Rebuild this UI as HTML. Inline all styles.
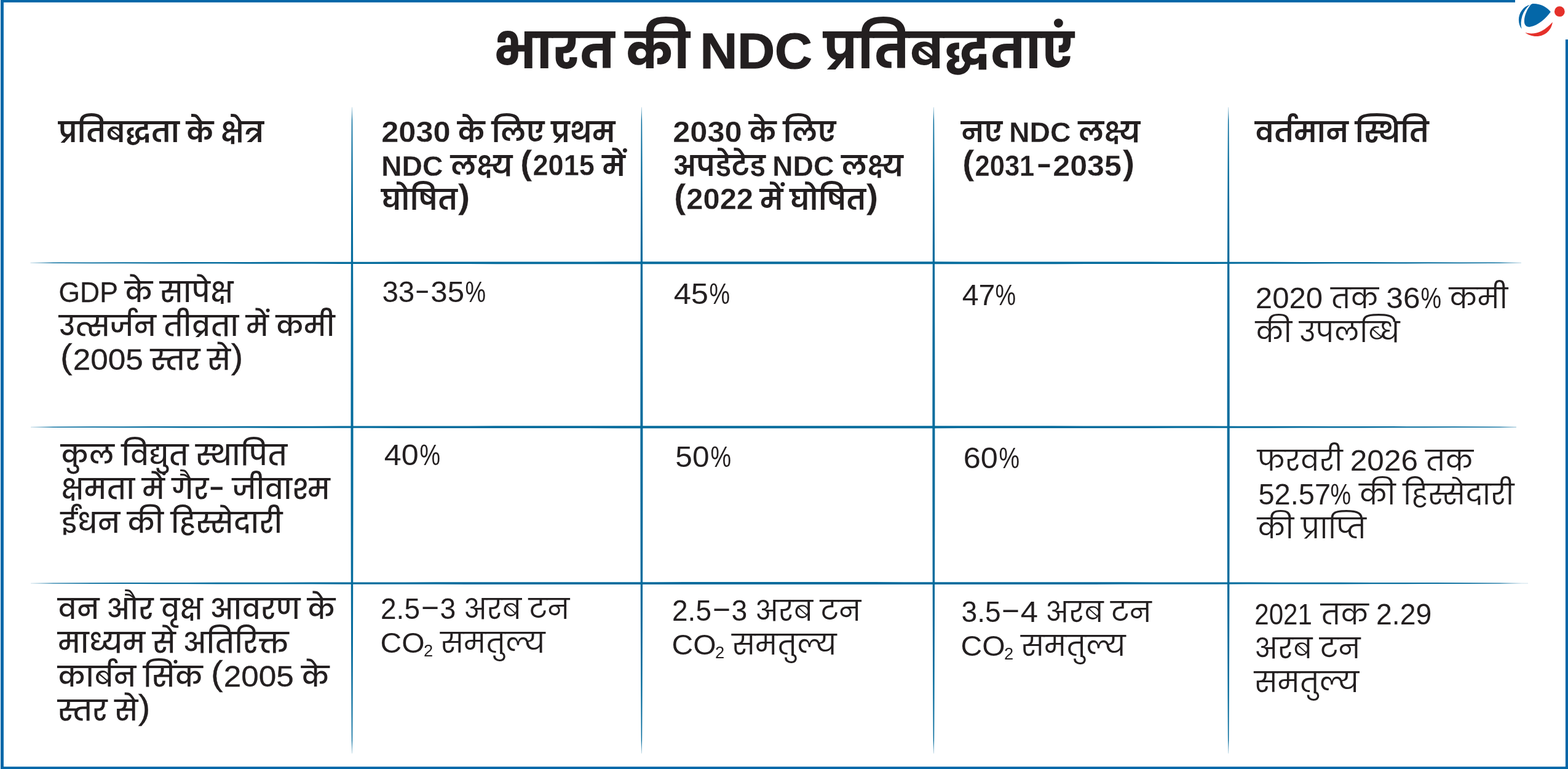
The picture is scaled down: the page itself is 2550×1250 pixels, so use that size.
<!DOCTYPE html>
<html lang="hi">
<head>
<meta charset="utf-8">
<meta name="viewport" content="width=2550, initial-scale=1">
<title>भारत की NDC प्रतिबद्धताएं</title>
<style>
html,body{margin:0;padding:0;background:#fff}
body{width:2550px;height:1250px;position:relative;overflow:hidden;
 font-family:"Liberation Sans","Poppins","Noto Sans Devanagari","Hind","Mukta","Lohit Devanagari","FreeSans",sans-serif;
 color:#231f20;-webkit-font-smoothing:antialiased;font-kerning:normal}
#art{position:absolute;left:0;top:0;width:2550px;height:1250px}
h1,table,thead,tbody,tr,th,td{margin:0;padding:0;border:0;font:inherit}
table,thead,tbody,tr{display:block}
h1,th,td{display:block;position:absolute;white-space:nowrap;text-align:left}
h1{font-weight:700}
th{font-weight:600}
td{font-weight:400}
td.k{font-weight:500}
.l{display:inline-block;line-height:1;transform-origin:0 0.8465em;font-family:"Liberation Sans",sans-serif}
h1 .l{-webkit-text-stroke:1.2px #231f20}
th .l{-webkit-text-stroke:.25px #fff}
td.k .l{-webkit-text-stroke:0.3px #231f20}
</style>
</head>
<body>
<svg id="art" width="2550" height="1250" viewBox="0 0 2550 1250" aria-hidden="true">
<defs>
<linearGradient id="gv" gradientUnits="userSpaceOnUse" x1="0" y1="174.3" x2="0" y2="1224.7">
<stop offset="0" stop-color="#056c9d" stop-opacity=".25"/><stop offset=".02" stop-color="#056c9d"/><stop offset=".98" stop-color="#056c9d"/><stop offset="1" stop-color="#056c9d" stop-opacity=".25"/>
</linearGradient>
<linearGradient id="gh" gradientUnits="userSpaceOnUse" x1="50" y1="0" x2="2475" y2="0">
<stop offset="0" stop-color="#056c9d" stop-opacity=".25"/><stop offset=".015" stop-color="#056c9d"/><stop offset=".985" stop-color="#056c9d"/><stop offset="1" stop-color="#056c9d" stop-opacity=".25"/>
</linearGradient>
</defs>
<!-- outer frame -->
<g fill="#0467a8">
<rect x="1" y="0" width="2463" height="3.9"/>
<rect x="1" y="0" width="4.9" height="1250"/>
<rect x="1" y="1246.2" width="2549" height="3.8"/>
<rect x="2545.9" y="64.2" width="4.1" height="1185.8"/>
</g>
<!-- logo -->
<g transform="translate(2400,0) scale(0.06)">
<path fill="#0467a8" d="M1465,130 C1280,180 1165,360 1165,540 C1165,640 1200,720 1245,785 C1215,680 1220,560 1260,430 C1300,310 1370,210 1465,130 Z"/>
<path fill="#0467a8" d="M1488,128 C1505,108 1530,98 1570,98 C1750,98 1920,180 2030,320 C1900,500 1700,680 1480,725 C1380,745 1310,690 1315,560 C1320,400 1400,240 1488,128 Z"/>
<path fill="#e5302a" d="M2080,600 C2060,790 1900,985 1640,985 C1520,985 1420,945 1340,880 C1480,930 1640,910 1780,840 C1900,780 2000,690 2080,600 Z"/>
<circle fill="#e5302a" cx="2272" cy="312" r="140"/>
</g>
<!-- grid: tapered rules -->
<path fill="url(#gv)" d="M572.95,174.3 L573.28,203.5 L573.46,232.7 L573.61,261.8 L573.73,291.0 L573.85,320.2 L573.95,349.4 L574.04,378.5 L574.12,407.7 L574.19,436.9 L574.26,466.1 L574.32,495.3 L574.36,524.4 L574.41,553.6 L574.44,582.8 L574.47,612.0 L574.49,641.1 L574.50,670.3 L574.50,699.5 L574.50,728.7 L574.49,757.9 L574.47,787.0 L574.44,816.2 L574.41,845.4 L574.36,874.6 L574.32,903.7 L574.26,932.9 L574.19,962.1 L574.12,991.3 L574.04,1020.5 L573.95,1049.6 L573.85,1078.8 L573.73,1108.0 L573.61,1137.2 L573.46,1166.3 L573.28,1195.5 L572.95,1224.7 L572.05,1224.7 L571.72,1195.5 L571.54,1166.3 L571.39,1137.2 L571.27,1108.0 L571.15,1078.8 L571.05,1049.6 L570.96,1020.5 L570.88,991.3 L570.81,962.1 L570.74,932.9 L570.68,903.7 L570.64,874.6 L570.59,845.4 L570.56,816.2 L570.53,787.0 L570.51,757.9 L570.50,728.7 L570.50,699.5 L570.50,670.3 L570.51,641.1 L570.53,612.0 L570.56,582.8 L570.59,553.6 L570.64,524.4 L570.68,495.3 L570.74,466.1 L570.81,436.9 L570.88,407.7 L570.96,378.5 L571.05,349.4 L571.15,320.2 L571.27,291.0 L571.39,261.8 L571.54,232.7 L571.72,203.5 L572.05,174.3 Z"/>
<path fill="url(#gv)" d="M1043.85,174.3 L1044.18,203.5 L1044.36,232.7 L1044.51,261.8 L1044.63,291.0 L1044.75,320.2 L1044.85,349.4 L1044.94,378.5 L1045.02,407.7 L1045.09,436.9 L1045.16,466.1 L1045.22,495.3 L1045.26,524.4 L1045.31,553.6 L1045.34,582.8 L1045.37,612.0 L1045.39,641.1 L1045.40,670.3 L1045.40,699.5 L1045.40,728.7 L1045.39,757.9 L1045.37,787.0 L1045.34,816.2 L1045.31,845.4 L1045.26,874.6 L1045.22,903.7 L1045.16,932.9 L1045.09,962.1 L1045.02,991.3 L1044.94,1020.5 L1044.85,1049.6 L1044.75,1078.8 L1044.63,1108.0 L1044.51,1137.2 L1044.36,1166.3 L1044.18,1195.5 L1043.85,1224.7 L1042.95,1224.7 L1042.62,1195.5 L1042.44,1166.3 L1042.29,1137.2 L1042.17,1108.0 L1042.05,1078.8 L1041.95,1049.6 L1041.86,1020.5 L1041.78,991.3 L1041.71,962.1 L1041.64,932.9 L1041.58,903.7 L1041.54,874.6 L1041.49,845.4 L1041.46,816.2 L1041.43,787.0 L1041.41,757.9 L1041.40,728.7 L1041.40,699.5 L1041.40,670.3 L1041.41,641.1 L1041.43,612.0 L1041.46,582.8 L1041.49,553.6 L1041.54,524.4 L1041.58,495.3 L1041.64,466.1 L1041.71,436.9 L1041.78,407.7 L1041.86,378.5 L1041.95,349.4 L1042.05,320.2 L1042.17,291.0 L1042.29,261.8 L1042.44,232.7 L1042.62,203.5 L1042.95,174.3 Z"/>
<path fill="url(#gv)" d="M1518.85,174.3 L1519.18,203.5 L1519.36,232.7 L1519.51,261.8 L1519.63,291.0 L1519.75,320.2 L1519.85,349.4 L1519.94,378.5 L1520.02,407.7 L1520.09,436.9 L1520.16,466.1 L1520.22,495.3 L1520.26,524.4 L1520.31,553.6 L1520.34,582.8 L1520.37,612.0 L1520.39,641.1 L1520.40,670.3 L1520.40,699.5 L1520.40,728.7 L1520.39,757.9 L1520.37,787.0 L1520.34,816.2 L1520.31,845.4 L1520.26,874.6 L1520.22,903.7 L1520.16,932.9 L1520.09,962.1 L1520.02,991.3 L1519.94,1020.5 L1519.85,1049.6 L1519.75,1078.8 L1519.63,1108.0 L1519.51,1137.2 L1519.36,1166.3 L1519.18,1195.5 L1518.85,1224.7 L1517.95,1224.7 L1517.62,1195.5 L1517.44,1166.3 L1517.29,1137.2 L1517.17,1108.0 L1517.05,1078.8 L1516.95,1049.6 L1516.86,1020.5 L1516.78,991.3 L1516.71,962.1 L1516.64,932.9 L1516.58,903.7 L1516.54,874.6 L1516.49,845.4 L1516.46,816.2 L1516.43,787.0 L1516.41,757.9 L1516.40,728.7 L1516.40,699.5 L1516.40,670.3 L1516.41,641.1 L1516.43,612.0 L1516.46,582.8 L1516.49,553.6 L1516.54,524.4 L1516.58,495.3 L1516.64,466.1 L1516.71,436.9 L1516.78,407.7 L1516.86,378.5 L1516.95,349.4 L1517.05,320.2 L1517.17,291.0 L1517.29,261.8 L1517.44,232.7 L1517.62,203.5 L1517.95,174.3 Z"/>
<path fill="url(#gv)" d="M1998.15,174.3 L1998.48,203.5 L1998.66,232.7 L1998.81,261.8 L1998.93,291.0 L1999.05,320.2 L1999.15,349.4 L1999.24,378.5 L1999.32,407.7 L1999.39,436.9 L1999.46,466.1 L1999.52,495.3 L1999.56,524.4 L1999.61,553.6 L1999.64,582.8 L1999.67,612.0 L1999.69,641.1 L1999.70,670.3 L1999.70,699.5 L1999.70,728.7 L1999.69,757.9 L1999.67,787.0 L1999.64,816.2 L1999.61,845.4 L1999.56,874.6 L1999.52,903.7 L1999.46,932.9 L1999.39,962.1 L1999.32,991.3 L1999.24,1020.5 L1999.15,1049.6 L1999.05,1078.8 L1998.93,1108.0 L1998.81,1137.2 L1998.66,1166.3 L1998.48,1195.5 L1998.15,1224.7 L1997.25,1224.7 L1996.92,1195.5 L1996.74,1166.3 L1996.59,1137.2 L1996.47,1108.0 L1996.35,1078.8 L1996.25,1049.6 L1996.16,1020.5 L1996.08,991.3 L1996.01,962.1 L1995.94,932.9 L1995.88,903.7 L1995.84,874.6 L1995.79,845.4 L1995.76,816.2 L1995.73,787.0 L1995.71,757.9 L1995.70,728.7 L1995.70,699.5 L1995.70,670.3 L1995.71,641.1 L1995.73,612.0 L1995.76,582.8 L1995.79,553.6 L1995.84,524.4 L1995.88,495.3 L1995.94,466.1 L1996.01,436.9 L1996.08,407.7 L1996.16,378.5 L1996.25,349.4 L1996.35,320.2 L1996.47,291.0 L1996.59,261.8 L1996.74,232.7 L1996.92,203.5 L1997.25,174.3 Z"/>
<path fill="url(#gh)" d="M49.5,426.85 L100.0,426.58 L150.5,426.42 L201.0,426.30 L251.5,426.19 L302.1,426.10 L352.6,426.01 L403.1,425.93 L453.6,425.85 L504.1,425.78 L554.6,425.72 L605.1,425.66 L655.6,425.61 L706.1,425.56 L756.6,425.51 L807.2,425.47 L857.7,425.44 L908.2,425.40 L958.7,425.38 L1009.2,425.35 L1059.7,425.33 L1110.2,425.32 L1160.7,425.31 L1211.2,425.30 L1261.8,425.30 L1312.3,425.30 L1362.8,425.31 L1413.3,425.32 L1463.8,425.33 L1514.3,425.35 L1564.8,425.38 L1615.3,425.40 L1665.8,425.44 L1716.3,425.47 L1766.9,425.51 L1817.4,425.56 L1867.9,425.61 L1918.4,425.66 L1968.9,425.72 L2019.4,425.78 L2069.9,425.85 L2120.4,425.93 L2170.9,426.01 L2221.4,426.10 L2272.0,426.19 L2322.5,426.30 L2373.0,426.42 L2423.5,426.58 L2474.0,426.85 L2474.0,427.75 L2423.5,428.02 L2373.0,428.18 L2322.5,428.30 L2272.0,428.41 L2221.4,428.50 L2170.9,428.59 L2120.4,428.67 L2069.9,428.75 L2019.4,428.82 L1968.9,428.88 L1918.4,428.94 L1867.9,428.99 L1817.4,429.04 L1766.9,429.09 L1716.3,429.13 L1665.8,429.16 L1615.3,429.20 L1564.8,429.22 L1514.3,429.25 L1463.8,429.27 L1413.3,429.28 L1362.8,429.29 L1312.3,429.30 L1261.8,429.30 L1211.2,429.30 L1160.7,429.29 L1110.2,429.28 L1059.7,429.27 L1009.2,429.25 L958.7,429.22 L908.2,429.20 L857.7,429.16 L807.2,429.13 L756.6,429.09 L706.1,429.04 L655.6,428.99 L605.1,428.94 L554.6,428.88 L504.1,428.82 L453.6,428.75 L403.1,428.67 L352.6,428.59 L302.1,428.50 L251.5,428.41 L201.0,428.30 L150.5,428.18 L100.0,428.02 L49.5,427.75 Z"/>
<path fill="url(#gh)" d="M50.0,693.75 L100.3,693.48 L150.7,693.32 L201.0,693.20 L251.3,693.09 L301.7,693.00 L352.0,692.91 L402.3,692.83 L452.7,692.75 L503.0,692.68 L553.3,692.62 L603.7,692.56 L654.0,692.51 L704.3,692.46 L754.7,692.41 L805.0,692.37 L855.3,692.34 L905.7,692.30 L956.0,692.28 L1006.3,692.25 L1056.7,692.23 L1107.0,692.22 L1157.3,692.21 L1207.7,692.20 L1258.0,692.20 L1308.3,692.20 L1358.7,692.21 L1409.0,692.22 L1459.3,692.23 L1509.7,692.25 L1560.0,692.28 L1610.3,692.30 L1660.7,692.34 L1711.0,692.37 L1761.3,692.41 L1811.7,692.46 L1862.0,692.51 L1912.3,692.56 L1962.7,692.62 L2013.0,692.68 L2063.3,692.75 L2113.7,692.83 L2164.0,692.91 L2214.3,693.00 L2264.7,693.09 L2315.0,693.20 L2365.3,693.32 L2415.7,693.48 L2466.0,693.75 L2466.0,694.65 L2415.7,694.92 L2365.3,695.08 L2315.0,695.20 L2264.7,695.31 L2214.3,695.40 L2164.0,695.49 L2113.7,695.57 L2063.3,695.65 L2013.0,695.72 L1962.7,695.78 L1912.3,695.84 L1862.0,695.89 L1811.7,695.94 L1761.3,695.99 L1711.0,696.03 L1660.7,696.06 L1610.3,696.10 L1560.0,696.12 L1509.7,696.15 L1459.3,696.17 L1409.0,696.18 L1358.7,696.19 L1308.3,696.20 L1258.0,696.20 L1207.7,696.20 L1157.3,696.19 L1107.0,696.18 L1056.7,696.17 L1006.3,696.15 L956.0,696.12 L905.7,696.10 L855.3,696.06 L805.0,696.03 L754.7,695.99 L704.3,695.94 L654.0,695.89 L603.7,695.84 L553.3,695.78 L503.0,695.72 L452.7,695.65 L402.3,695.57 L352.0,695.49 L301.7,695.40 L251.3,695.31 L201.0,695.20 L150.7,695.08 L100.3,694.92 L50.0,694.65 Z"/>
<path fill="url(#gh)" d="M50.0,947.65 L100.7,947.38 L151.5,947.22 L202.2,947.10 L252.9,946.99 L303.6,946.90 L354.4,946.81 L405.1,946.73 L455.8,946.65 L506.6,946.58 L557.3,946.52 L608.0,946.46 L658.8,946.41 L709.5,946.36 L760.2,946.31 L810.9,946.27 L861.7,946.24 L912.4,946.20 L963.1,946.18 L1013.9,946.15 L1064.6,946.13 L1115.3,946.12 L1166.0,946.11 L1216.8,946.10 L1267.5,946.10 L1318.2,946.10 L1369.0,946.11 L1419.7,946.12 L1470.4,946.13 L1521.1,946.15 L1571.9,946.18 L1622.6,946.20 L1673.3,946.24 L1724.1,946.27 L1774.8,946.31 L1825.5,946.36 L1876.2,946.41 L1927.0,946.46 L1977.7,946.52 L2028.4,946.58 L2079.2,946.65 L2129.9,946.73 L2180.6,946.81 L2231.4,946.90 L2282.1,946.99 L2332.8,947.10 L2383.5,947.22 L2434.3,947.38 L2485.0,947.65 L2485.0,948.55 L2434.3,948.82 L2383.5,948.98 L2332.8,949.10 L2282.1,949.21 L2231.4,949.30 L2180.6,949.39 L2129.9,949.47 L2079.2,949.55 L2028.4,949.62 L1977.7,949.68 L1927.0,949.74 L1876.2,949.79 L1825.5,949.84 L1774.8,949.89 L1724.1,949.93 L1673.3,949.96 L1622.6,950.00 L1571.9,950.02 L1521.1,950.05 L1470.4,950.07 L1419.7,950.08 L1369.0,950.09 L1318.2,950.10 L1267.5,950.10 L1216.8,950.10 L1166.0,950.09 L1115.3,950.08 L1064.6,950.07 L1013.9,950.05 L963.1,950.02 L912.4,950.00 L861.7,949.96 L810.9,949.93 L760.2,949.89 L709.5,949.84 L658.8,949.79 L608.0,949.74 L557.3,949.68 L506.6,949.62 L455.8,949.55 L405.1,949.47 L354.4,949.39 L303.6,949.30 L252.9,949.21 L202.2,949.10 L151.5,948.98 L100.7,948.82 L50.0,948.55 Z"/>
</svg>
<h1 style="left:802.70px;top:23px;font-size:81.66px;line-height:120px;word-spacing:-0.066em;transform:scaleY(.984);transform-origin:0 88px">भारत की <span class="l" style="width:2.241em;transform:translate(-0.007em,-0.005em) scale(1.031,1.010)">NDC</span> प्रतिबद्धताएं</h1>
<table>
<thead>
<tr>
<th style="left:95.00px;top:188px;font-size:45.85px;line-height:55px;word-spacing:-0.040em">प्रतिबद्धता के क्षेत्र</th>
<th style="left:620.00px;top:188px;font-size:45.85px;line-height:55px;word-spacing:-0.040em"><span class="l" style="width:2.465em;transform:translate(0.006em,-0.007em) scale(1.102,1.059)">2030</span> के लिए प्रथम<br><span class="l" style="width:2.220em;transform:translate(0.001em,-0.004em) scale(1.013,1.007)">NDC</span> लक्ष्य <span class="l" style="width:0.485em;transform:translate(0.043em,-0.053em) scale(1.276,1.203)">(</span><span class="l" style="width:2.226em;transform:translate(0.010em,-0.010em) scale(0.984,1.052)">2015</span> में<br>घोषित<span class="l" style="width:0.485em;transform:translate(0.017em,-0.053em) scale(1.276,1.203)">)</span></th>
<th style="left:1094.00px;top:188px;font-size:45.85px;line-height:55px;word-spacing:-0.040em"><span class="l" style="width:2.465em;transform:translate(0.006em,-0.007em) scale(1.102,1.059)">2030</span> के लिए<br>अपडेटेड <span class="l" style="width:2.220em;transform:translate(0.001em,-0.004em) scale(1.013,1.007)">NDC</span> लक्ष्य<br><span class="l" style="width:0.485em;transform:translate(0.043em,-0.053em) scale(1.276,1.203)">(</span><span class="l" style="width:2.368em;transform:translate(0.007em,-0.012em) scale(1.065,1.049)">2022</span> में घोषित<span class="l" style="width:0.485em;transform:translate(0.017em,-0.053em) scale(1.276,1.203)">)</span></th>
<th style="left:1563.00px;top:188px;font-size:45.85px;line-height:55px;word-spacing:-0.040em">नए <span class="l" style="width:2.220em;transform:translate(0.001em,-0.004em) scale(1.013,1.007)">NDC</span> लक्ष्य<br><span class="l" style="width:0.485em;transform:translate(0.043em,-0.053em) scale(1.276,1.203)">(</span><span class="l" style="width:2.181em;transform:translate(0.011em,-0.007em) scale(0.949,1.059)">2031</span><span class="l" style="width:0.583em;transform:translate(0.006em,-0.100em) scale(1.670,0.990)">-</span><span class="l" style="width:2.463em;transform:translate(0.006em,-0.007em) scale(1.094,1.059)">2035</span><span class="l" style="width:0.485em;transform:translate(0.017em,-0.053em) scale(1.276,1.203)">)</span></th>
<th style="left:2041.00px;top:188px;font-size:45.85px;line-height:55px;word-spacing:-0.040em">वर्तमान स्थिति</th>
</tr>
</thead>
<tbody>
<tr>
<td class="k" style="left:96.00px;top:448px;font-size:45.8px;line-height:55px;word-spacing:-0.018em"><span class="l" style="width:2.077em;transform:translate(-0.012em,-0.004em) scale(0.972,1.003)">GDP</span> के सापेक्ष<br>उत्सर्जन तीव्रता में कमी<br><span class="l" style="width:0.492em;transform:translate(0.044em,-0.063em) scale(1.286,1.202)">(</span><span class="l" style="width:2.498em;transform:translate(-0.006em,-0.010em) scale(1.120,1.051)">2005</span> स्तर से<span class="l" style="width:0.492em;transform:translate(0.019em,-0.063em) scale(1.286,1.202)">)</span></td>
<td style="left:621.00px;top:448px;font-size:45.8px;line-height:55px;word-spacing:-0.011em"><span class="l" style="width:1.178em;transform:translate(0.010em,-0.005em) scale(1.037,1.048)">33</span><span class="l" style="width:0.551em;transform:translate(-0.015em,-0.105em) scale(1.634,0.986)">-</span><span class="l" style="width:1.217em;transform:translate(0.008em,-0.005em) scale(1.074,1.048)">35</span><span class="l" style="width:0.759em;transform:translate(0.013em,0.006em) scale(0.824,1.030)">%</span></td>
<td style="left:1095.00px;top:451px;font-size:45.8px;line-height:55px;word-spacing:-0.011em"><span class="l" style="width:1.257em;transform:translate(0.015em,-0.008em) scale(1.106,1.040)">45</span><span class="l" style="width:0.759em;transform:translate(0.013em,0.006em) scale(0.824,1.030)">%</span></td>
<td style="left:1564.00px;top:453px;font-size:45.8px;line-height:55px;word-spacing:-0.011em"><span class="l" style="width:1.175em;transform:translate(0.016em,-0.000em) scale(1.055,1.048)">47</span><span class="l" style="width:0.759em;transform:translate(0.013em,0.006em) scale(0.824,1.030)">%</span></td>
<td style="left:2042.00px;top:458px;font-size:45.8px;line-height:55px;word-spacing:-0.011em"><span class="l" style="width:2.406em;transform:translate(-0.003em,-0.010em) scale(1.073,1.040)">2020</span> तक <span class="l" style="width:1.224em;transform:translate(0.008em,-0.005em) scale(1.081,1.049)">36</span><span class="l" style="width:0.759em;transform:translate(0.013em,0.006em) scale(0.824,1.030)">%</span> कमी<br>की उपलब्धि</td>
</tr>
<tr>
<td class="k" style="left:99.00px;top:713px;font-size:45.8px;line-height:55px;word-spacing:-0.018em">कुल विद्युत स्थापित<br>क्षमता में गैर<span class="l" style="width:0.585em;transform:translate(0.012em,-0.036em) scale(1.683,1.229)">-</span> जीवाश्म<br>ईंधन की हिस्सेदारी</td>
<td style="left:624.00px;top:713px;font-size:45.8px;line-height:55px;word-spacing:-0.011em"><span class="l" style="width:1.257em;transform:translate(0.015em,-0.010em) scale(1.099,1.037)">40</span><span class="l" style="width:0.759em;transform:translate(0.013em,0.006em) scale(0.824,1.030)">%</span></td>
<td style="left:1097.00px;top:716px;font-size:45.8px;line-height:55px;word-spacing:-0.011em"><span class="l" style="width:1.256em;transform:translate(0.030em,-0.008em) scale(1.084,1.040)">50</span><span class="l" style="width:0.759em;transform:translate(0.013em,0.006em) scale(0.824,1.030)">%</span></td>
<td style="left:1566.00px;top:718px;font-size:45.8px;line-height:55px;word-spacing:-0.011em"><span class="l" style="width:1.263em;transform:translate(0.017em,-0.008em) scale(1.102,1.045)">60</span><span class="l" style="width:0.759em;transform:translate(0.013em,0.006em) scale(0.824,1.030)">%</span></td>
<td style="left:2045.00px;top:722px;font-size:45.8px;line-height:55px;word-spacing:-0.011em">फरवरी <span class="l" style="width:2.413em;transform:translate(-0.003em,-0.008em) scale(1.080,1.045)">2026</span> तक<br><span class="l" style="width:2.587em;transform:translate(0.032em,-0.004em) scale(1.026,1.048)">52.57</span><span class="l" style="width:0.759em;transform:translate(0.013em,0.006em) scale(0.824,1.030)">%</span> की हिस्सेदारी<br>की प्राप्ति</td>
</tr>
<tr>
<td class="k" style="left:94.00px;top:963px;font-size:45.8px;line-height:55px;word-spacing:-0.018em">वन और वृक्ष आवरण के<br>माध्यम से अतिरिक्त<br>कार्बन सिंक <span class="l" style="width:0.492em;transform:translate(0.044em,-0.063em) scale(1.286,1.202)">(</span><span class="l" style="width:2.498em;transform:translate(-0.006em,-0.010em) scale(1.120,1.051)">2005</span> के<br>स्तर से<span class="l" style="width:0.492em;transform:translate(0.019em,-0.063em) scale(1.286,1.202)">)</span></td>
<td style="left:619.00px;top:963px;font-size:45.8px;line-height:55px;word-spacing:-0.011em"><span class="l" style="width:1.413em;transform:translate(0.001em,-0.004em) scale(1.004,1.048)">2.5</span><span class="l" style="width:0.677em;transform:translate(0.076em,-0.075em) scale(0.947,1.151)">–</span><span class="l" style="width:0.589em;transform:translate(0.011em,-0.005em) scale(1.010,1.048)">3</span> अरब टन<br><span class="l" style="width:1.558em;transform:translate(-0.010em,-0.003em) scale(1.050,1.007)">CO</span><span class="l" style="width:0.305em;transform:translate(-0.038em,0.043em) scale(0.942,1.022)">₂</span> समतुल्य</td>
<td style="left:1093.00px;top:966px;font-size:45.8px;line-height:55px;word-spacing:-0.011em"><span class="l" style="width:1.413em;transform:translate(0.001em,-0.004em) scale(1.004,1.048)">2.5</span><span class="l" style="width:0.677em;transform:translate(0.076em,-0.075em) scale(0.947,1.151)">–</span><span class="l" style="width:0.589em;transform:translate(0.011em,-0.005em) scale(1.010,1.048)">3</span> अरब टन<br><span class="l" style="width:1.558em;transform:translate(-0.010em,-0.003em) scale(1.050,1.007)">CO</span><span class="l" style="width:0.305em;transform:translate(-0.038em,0.043em) scale(0.942,1.022)">₂</span> समतुल्य</td>
<td style="left:1563.00px;top:968px;font-size:45.8px;line-height:55px;word-spacing:-0.011em"><span class="l" style="width:1.427em;transform:translate(0.011em,-0.004em) scale(1.007,1.049)">3.5</span><span class="l" style="width:0.677em;transform:translate(0.076em,-0.075em) scale(0.947,1.151)">–</span><span class="l" style="width:0.629em;transform:translate(0.014em,-0.000em) scale(1.111,1.041)">4</span> अरब टन<br><span class="l" style="width:1.558em;transform:translate(-0.010em,-0.003em) scale(1.050,1.007)">CO</span><span class="l" style="width:0.305em;transform:translate(-0.038em,0.043em) scale(0.942,1.022)">₂</span> समतुल्य</td>
<td style="left:2040.00px;top:972px;font-size:45.8px;line-height:55px;word-spacing:-0.011em"><span class="l" style="width:2.098em;transform:translate(0.005em,-0.010em) scale(0.919,1.040)">2021</span> तक <span class="l" style="width:1.990em;transform:translate(0.000em,-0.004em) scale(1.013,1.049)">2.29</span><br>अरब टन<br>समतुल्य</td>
</tr>
</tbody>
</table>
</body>
</html>
